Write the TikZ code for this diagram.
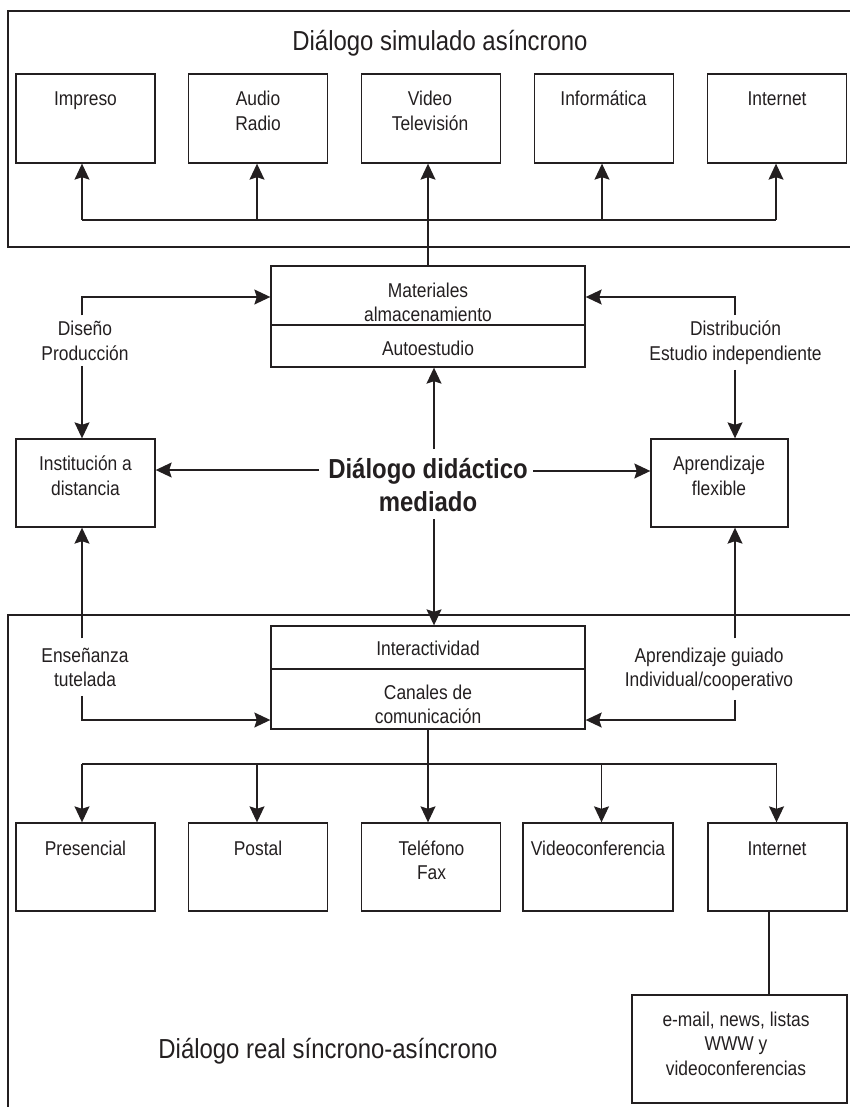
\documentclass[tikz,border=0pt]{standalone}
\usepackage{fontspec}
\setmainfont{Liberation Sans}[FakeStretch=0.87]
\usetikzlibrary{arrows.meta}
\definecolor{ink}{RGB}{35,31,32}
\begin{document}
\begin{tikzpicture}[x=1pt,y=-1pt,color=ink,line width=1.35pt,
  box/.style={draw,inner sep=0pt},
  txt/.style={font=\fontsize{20}{24.5}\selectfont,align=center,inner sep=0pt,anchor=base},
  lab/.style={txt,inner xsep=0pt,inner ysep=#1},
  lab/.default=5pt,
  headline/.style={font=\fontsize{27.5}{33}\selectfont,inner sep=0pt,anchor=base},
  core/.style={font=\bfseries\fontsize{27.5}{33.7}\selectfont,align=center,inner sep=0pt,anchor=base},
  arr/.style={-{Stealth[length=16pt,width=15pt,inset=2.5pt]}}]
\useasboundingbox (0,0) rectangle (850,1107);

% ---- upper region: simulated asynchronous dialogue
% (multi-line nodes are placed by the baseline of their last line)
\draw (850,11) -- (8,11) -- (8,247) -- (850,247);
\node[headline] (tUp) at (440,51) {Diálogo simulado asíncrono};

\foreach \n/\x in {imp/85.5,aud/258,vid/431,inf/604,net/777}
  \node[box,minimum width=139pt,minimum height=89pt] (\n) at (\x,118.5) {};
\node[txt] (tImp) at (85.5,106) {Impreso};
\node[txt] (tAud) at (258,130.5) {Audio\\Radio};
\node[txt] (tVid) at (430,130.5) {Video\\Televisión};
\node[txt] (tInf) at (603.5,106) {Informática};
\node[txt] (tNet) at (777,106) {Internet};

% ---- central boxes
\node[box,minimum width=314pt,minimum height=101pt] (mat) at (428,316.5) {};
\draw (mat.west |- 0,325) -- (mat.east |- 0,325);
\node[txt] (tMat) at (428,321.5) {Materiales\\almacenamiento};
\node[txt] (tAuto) at (428,355) {Autoestudio};

\node[box,minimum width=139pt,minimum height=88pt] (inst) at (85.5,483) {};
\node[txt] (tInst) at (85.5,495) {Institución a\\distancia};
\node[box,minimum width=137pt,minimum height=88pt] (apr) at (719.5,483) {};
\node[txt] (tApr) at (719,495) {Aprendizaje\\flexible};

\node[core] (dlg) at (428,511.7) {Diálogo didáctico\\mediado};

\node[box,minimum width=314pt,minimum height=103pt] (inter) at (428,677.5) {};
\draw (inter.west |- 0,669) -- (inter.east |- 0,669);
\node[txt] (tInter) at (428,655) {Interactividad};
\node[txt] (tCan) at (428,723.5) {Canales de\\comunicación};

% ---- lower region: real synchronous-asynchronous dialogue
\draw (850,615) -- (8,615) -- (8,1107);
\node[headline] (tLow) at (328,1058.3) {Diálogo real síncrono-asíncrono};

\node[box,minimum width=139pt,minimum height=88pt] (pre) at (85.5,867) {};
\node[box,minimum width=139pt,minimum height=88pt] (pos) at (258,867) {};
\node[box,minimum width=139pt,minimum height=88pt] (tel) at (431,867) {};
\node[box,minimum width=150pt,minimum height=88pt] (vcf) at (598,867) {};
\node[box,minimum width=139pt,minimum height=88pt] (web) at (777.5,867) {};
\node[txt] (tPre) at (85.5,855) {Presencial};
\node[txt] (tPos) at (258,855) {Postal};
\node[txt] (tTel) at (431.5,879.5) {Teléfono\\Fax};
\node[txt] (tVcf) at (598,855) {Videoconferencia};
\node[txt] (tWeb) at (777,855) {Internet};

\node[box,minimum width=215pt,minimum height=108pt] (mail) at (739.5,1049) {};
\node[txt] (tMail) at (736,1075) {e-mail, news, listas\\WWW y\\videoconferencias};

% ---- labels on the side connectors
\node[lab] (lDis) at (85,360) {Diseño\\Producción};
\node[lab] (lDist) at (735.5,360) {Distribución\\Estudio independiente};
\node[lab=8.5pt] (lEns) at (85,686.5) {Enseñanza\\tutelada};
\node[lab=8.5pt] (lGui) at (709,686.5) {Aprendizaje guiado\\Individual/cooperativo};

% ---- connectors: upper bus
\coordinate (u1) at (82,220);
\coordinate (u2) at (257,220);
\coordinate (u4) at (602,220);
\coordinate (u5) at (776,220);
\draw (u1) -- (u5);
\draw[arr] (u1) -- (u1 |- imp.south);
\draw[arr] (u2) -- (u2 |- aud.south);
\draw[arr] (u4) -- (u4 |- inf.south);
\draw[arr] (u5) -- (u5 |- net.south);
\draw[arr] (mat.north) -- (mat.north |- vid.south);

% ---- connectors: left and right loops
\coordinate (cL) at (82,297);
\coordinate (cR) at (735,297);
\draw[arr] (cL |- lDis.north) -- (cL) -- (cL -| mat.west);
\draw[arr] (cL |- lDis.south) -- (cL |- inst.north);
\draw[arr] (cR |- lDist.north) -- (cR) -- (cR -| mat.east);
\draw[arr] (cR |- lDist.south) -- (cR |- apr.north);

\coordinate (cLB) at (82,720);
\coordinate (cRB) at (735,720);
\draw[arr] (cLB |- lEns.north) -- (cLB |- inst.south);
\draw[arr] (cLB |- lEns.south) -- (cLB) -- (cLB -| inter.west);
\draw[arr] (cRB |- lGui.north) -- (cRB |- apr.south);
\draw[arr] (cRB |- lGui.south) -- (cRB) -- (cRB -| inter.east);

% ---- connectors from the central dialogue
\coordinate (dL) at (319,470);
\coordinate (dR) at (533,471);
\coordinate (dU) at (434,449);
\coordinate (dD) at (434,519);
\draw[arr] (dL) -- (dL -| inst.east);
\draw[arr] (dR) -- (dR -| apr.west);
\draw[arr] (dU) -- (dU |- mat.south);
\draw[arr] (dD) -- (dD |- inter.north);

% ---- connectors: lower bus
\coordinate (b1) at (82,764);
\coordinate (b2) at (257,764);
\coordinate (b4) at (601.5,764);
\coordinate (b5) at (776.5,764);
\draw (b1) -- (b5);
\draw[arr] (b1) -- (b1 |- pre.north);
\draw[arr] (b2) -- (b2 |- pos.north);
\draw[arr] (inter.south) -- (inter.south |- tel.north);
\draw[arr] (b4) -- (b4 |- vcf.north);
\draw[arr] (b5) -- (b5 |- web.north);

\coordinate (iE) at (769,0);
\draw (web.south -| iE) -- (iE |- mail.north);
\end{tikzpicture}
\end{document}
